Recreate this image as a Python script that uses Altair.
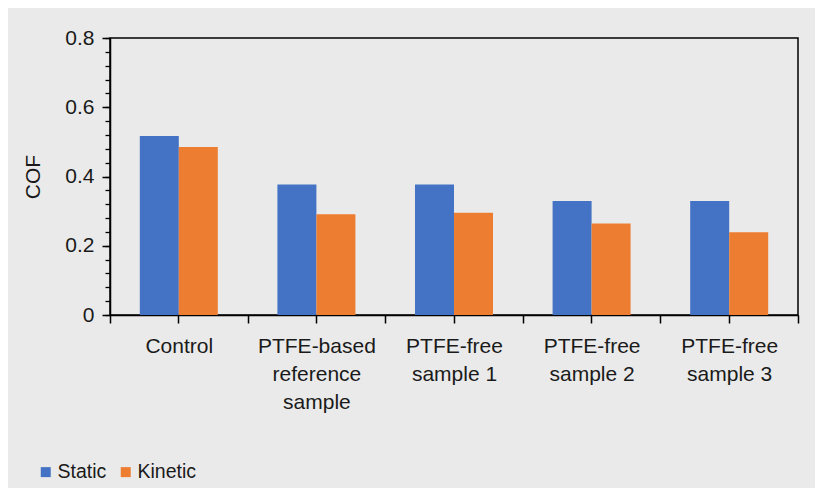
import altair as alt
import pandas as pd

categories = ["Control", "PTFE-based|reference|sample", "PTFE-free|sample 1",
              "PTFE-free|sample 2", "PTFE-free|sample 3"]
series = ["Static", "Kinetic"]
static_vals = [0.517, 0.377, 0.377, 0.329, 0.329]
kinetic_vals = [0.485, 0.291, 0.295, 0.264, 0.239]
colors = ["#4472C4", "#ED7D31"]
major_ticks = [0, 0.2, 0.4, 0.6, 0.8]
minor_ticks = [round(i * 0.04, 2) for i in range(21)]

rows = []
for c, s, k in zip(categories, static_vals, kinetic_vals):
    rows.append({"cat": c, "series": "Static", "cof": s})
    rows.append({"cat": c, "series": "Kinetic", "cof": k})
df = pd.DataFrame(rows)

FONT = "Liberation Sans"
TXT = "#1a1a1a"

xscale = alt.Scale(domain=categories, paddingInner=0, paddingOuter=0)
yscale = alt.Scale(domain=[0, 0.8], nice=False)

base = alt.Chart(df)

bars = base.mark_bar().encode(
    x=alt.X("cat:N", scale=xscale, sort=categories, title=None,
            axis=alt.Axis(orient="bottom", labelAngle=0, tickBand="extent",
                          labelExpr="split(datum.label, '|')",
                          labelFont=FONT, labelFontSize=21, labelColor=TXT,
                          labelLineHeight=28, labelPadding=12, tickSize=8,
                          tickColor="black", tickWidth=1.5, domainColor="black",
                          domainWidth=1.5, grid=False, labelBaseline="top")),
    xOffset=alt.XOffset("series:N", sort=series,
                        scale=alt.Scale(paddingInner=0, paddingOuter=0.764)),
    y=alt.Y("cof:Q", scale=yscale, title="COF",
            axis=alt.Axis(orient="left", values=major_ticks,
                          labelFont=FONT, labelFontSize=21, labelColor=TXT,
                          labelPadding=8, tickSize=8, tickColor="black",
                          tickWidth=1.5, domainColor="black", domainWidth=1.5,
                          grid=False, titleFont=FONT, titleFontSize=21,
                          titleFontWeight="normal", titleColor=TXT,
                          titlePadding=21,
                          labelExpr="datum.value == 0 ? '0' : format(datum.value, '.1f')")),
    color=alt.Color("series:N", sort=series,
                    scale=alt.Scale(domain=series, range=colors),
                    legend=alt.Legend(title=None, orient="none", direction="horizontal",
                                      legendX=-74, legendY=424, symbolType="square",
                                      symbolSize=100, symbolStrokeWidth=0,
                                      labelFont=FONT, labelFontSize=19.5,
                                      labelColor=TXT, labelOffset=2,
                                      columnPadding=9)),
)

ticks_layer = base.mark_bar(opacity=0).encode(
    x=alt.X("cat:N", scale=xscale, sort=categories, title=None,
            axis=alt.Axis(orient="bottom", labels=False, domain=False,
                          tickBand="center", tickSize=8, tickColor="black",
                          tickWidth=1.5, grid=False)),
    y=alt.Y("cof:Q", scale=yscale, title=None,
            axis=alt.Axis(orient="left", values=minor_ticks, labels=False,
                          domain=False, tickSize=5, tickColor="black",
                          tickWidth=1.3, grid=False)),
)

chart = alt.layer(bars, ticks_layer).resolve_axis(
    x="independent", y="independent"
).properties(
    width=688, height=277,
    autosize=alt.AutoSizeParams(type="none"),
    padding={"left": 102, "top": 30, "right": 17, "bottom": 173},
    background="#eaeaea",
).configure_view(
    stroke="black", strokeWidth=1.5
)

chart.save("out.html", embed_options={"renderer": "svg", "actions": False})
